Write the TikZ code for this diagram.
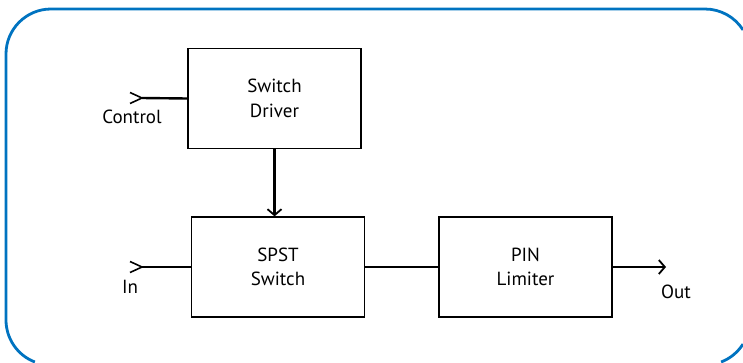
\documentclass[tikz,border=0pt]{standalone}
\usepackage{fontspec}
\setmainfont{PT Sans}
\usetikzlibrary{arrows.meta}
\definecolor{frameblue}{RGB}{0,115,192}
\def\portmark(#1){\draw[line width=1.6pt] ([shift={(-12,-5.5)}]#1) -- (#1) -- ([shift={(-12,5.5)}]#1);}
\tikzset{
	block/.style={draw=black, line width=1.3pt, minimum width=173pt, minimum height=100pt, align=center, font=\fontsize{19}{24.5}\selectfont},
	wire/.style={line width=2.4pt},
	lbl/.style={font=\fontsize{19}{22}\selectfont, inner sep=0pt}
}
\begin{document}
\begin{tikzpicture}[x=1pt, y=-1pt]
		%%%%% START %%%%%
		\useasboundingbox (0, 0) rectangle (743, 362);
		
		% outer frame, cut by the page on the right and at the bottom
		% (y points down, so the arc angles run the other way)
		\draw[line width=2.8pt, color=frameblue] (743, 29.9) arc (-32.4:-90:45) -- (51, 9) arc (270:180:45) -- (6, 320) arc (180:111:45);
		\draw[line width=2.8pt, color=frameblue] (721.1, 362) arc (69:32.4:45);
		
		% blocks
		\node[block] (driver) at (274.5, 98.5) {Switch\\Driver};
		\node[block] (spst) at (278, 267) {SPST\\Switch};
		\node[block] (limiter) at (525.5, 267) {PIN\\Limiter};
		
		% ports
		\coordinate (ctl) at (142, 98);
		\coordinate (in) at (142, 267);
		\coordinate (out) at (666, 267);
		\node[lbl] (ctllbl) at (132, 117) {Control};
		\node[lbl] (inlbl) at (130, 287) {In};
		\node[lbl] (outlbl) at (676, 292) {Out};
		
		% connections
		\draw[wire] (ctl) -- (driver.west);
		\portmark(ctl)
		\draw[wire] (in) -- (spst.west);
		\portmark(in)
		\draw[wire, -{Straight Barb[length=6pt, width=14pt, line width=1.8pt]}] (driver.south) -- (driver.south |- spst.north);
		\draw[wire] (spst.east) -- (limiter.west);
		\draw[wire, -{Straight Barb[length=6pt, width=14pt, line width=1.8pt]}] (limiter.east) -- (out);
		
		%%%%% END %%%%%
	\end{tikzpicture}
\end{document}
